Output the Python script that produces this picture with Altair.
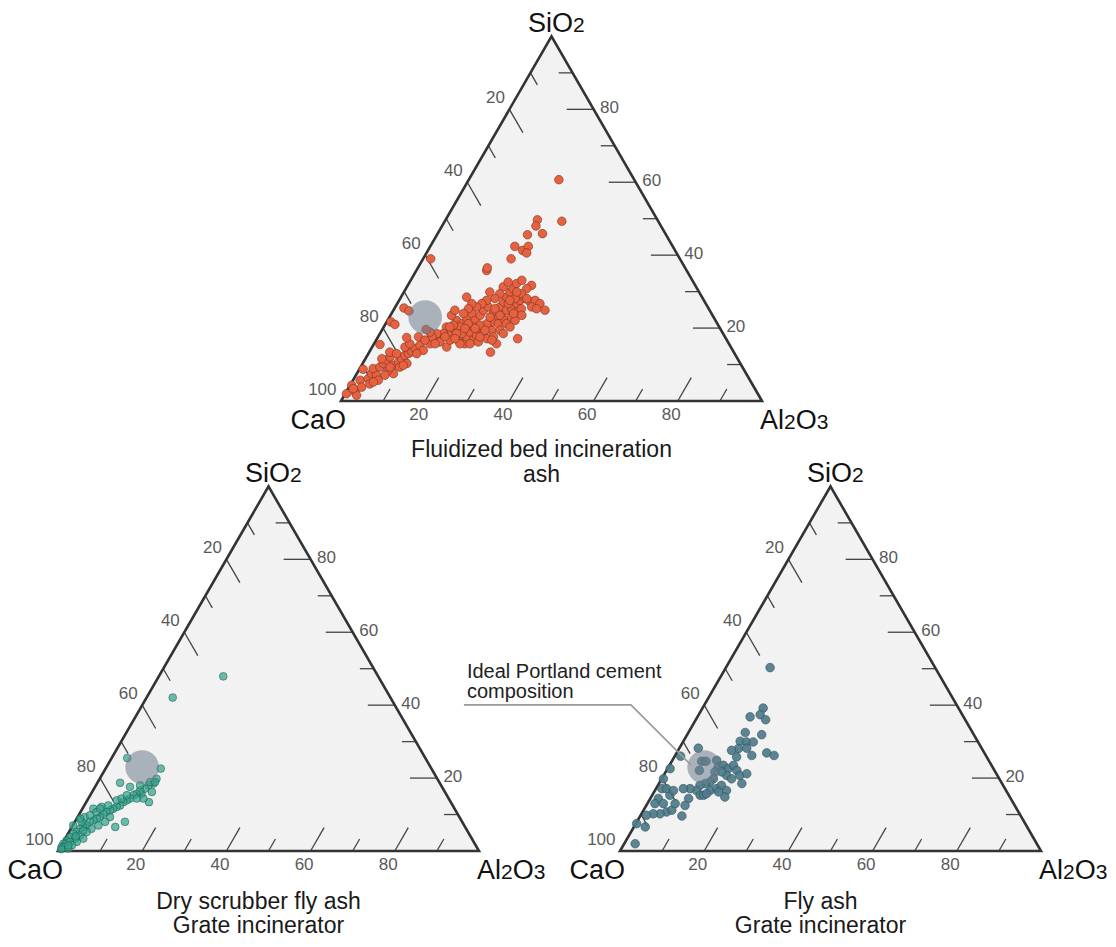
import altair as alt
import pandas as pd

# ---------------- layout of the three ternary panels ----------------
PANEL_IDS = ["fbi", "dry", "fly"]
PANEL_X0 = [341, 58, 620]      # x of the CaO corner
PANEL_Y0 = [399, 849, 849]     # y of the base line
PANEL_SIDE = [421, 421, 421]   # side length
TITLE_GAP = [56, 58, 58]
TITLE_LEADING = [25, 24, 24]
TITLE_LINES = [["Fluidized bed incineration", "ash"],
               ["Dry scrubber fly ash", "Grate incinerator"],
               ["Fly ash", "Grate incinerator"]]
POINT_FILL = ["#e6613f", "#34a38c", "#4e7c8b"]
POINT_STROKE = ["#6e2d1e", "#1b5a4e", "#2a4853"]
POINT_FILL_OPACITY = [1.0, 0.72, 0.92]
POINT_SIZE = [75, 60, 75]

# ---------------- tick values ----------------
TICK_VALUES = [10, 20, 30, 40, 50, 60, 70, 80, 90]
MAJOR_TICKS = [20, 40, 60, 80]
LEFT_LABELS = [20, 40, 60, 80, 100]     # CaO
RIGHT_LABELS = [20, 40, 60, 80]         # SiO2
BOTTOM_LABELS = [20, 40, 60, 80]        # Al2O3

# ideal Portland cement composition (CaO, SiO2, Al2O3)
CEM_CAO, CEM_SIO2, CEM_AL2O3 = 68.5, 23.0, 8.5

# ---------------- data: Fluidized bed incineration ash ----------------
FBI_CAO = [97.7, 95.4, 95.5, 95.3, 90.4, 92.6, 90.5, 89.0, 88.0, 87.9, 86.1, 84.8, 83.5, 82.3, 84.5,
           82.7, 81.0, 79.8, 78.6, 77.5, 76.4, 75.2, 73.6, 73.5, 70.9, 71.0, 81.4, 79.2, 83.8, 84.6,
           88.3, 90.8, 93.2, 95.4, 77.4, 75.8, 75.5, 81.7, 80.3, 83.0, 75.7, 68.3, 68.4, 67.5, 64.8,
           63.2, 63.7, 62.3, 62.7, 61.3, 59.9, 60.2, 58.8, 57.3, 56.9, 56.8, 54.5, 55.0, 55.2, 61.5,
           60.7, 58.8, 56.9, 57.1, 55.2, 53.7, 52.1, 51.8, 51.7, 49.3, 47.8, 46.4, 44.9, 43.7, 42.2,
           40.5, 45.8, 44.0, 47.6, 49.4, 49.7, 51.6, 53.2, 54.9, 55.6, 55.9, 57.1, 58.9, 61.6, 62.9,
           62.0, 60.5, 64.8, 66.4, 68.0, 69.6, 69.4, 53.3, 52.0, 50.1, 48.2, 46.8, 44.9, 43.7, 42.2,
           41.5, 40.1, 39.4, 39.1, 38.9, 40.5, 42.4, 44.6, 46.9, 50.0, 52.5, 50.1, 48.0, 46.1, 44.5,
           47.6, 49.7, 54.8, 56.6, 58.4, 59.2, 62.1, 63.3, 65.7, 66.5, 47.5, 47.0, 57.8, 49.5, 17.9,
           22.9, 28.5, 29.7, 32.9, 29.2, 37.5, 36.2, 34.3, 35.6, 40.1, 59.2, 72.3, 71.5, 77.3, 76.7,
           70.0, 63.9, 61.5, 59.3, 56.1, 58.2, 60.6, 64.4, 53.1, 50.8, 47.0, 52.2, 55.8, 58.2, 64.0,
           50.5, 46.1, 43.3, 41.8, 41.8, 40.9, 45.3, 72.8, 71.7, 69.8, 89.7, 86.0, 80.3, 83.7]
FBI_SIO2 = [2.0, 2.5, 1.6, 4.3, 8.7, 5.7, 6.1, 7.5, 7.1, 8.9, 9.3, 10.3, 11.2, 12.1, 11.6,
            9.8, 10.7, 11.6, 12.5, 13.0, 13.5, 14.4, 15.3, 13.9, 16.7, 15.7, 9.3, 10.3, 7.5, 8.4,
            5.7, 4.7, 3.8, 3.4, 14.8, 15.7, 13.0, 13.4, 13.0, 15.5, 17.4, 17.1, 16.2, 14.8, 18.5,
            19.4, 16.7, 18.0, 15.7, 17.6, 18.9, 16.7, 18.0, 19.4, 18.5, 17.1, 19.4, 17.6, 15.7, 22.1,
            21.2, 22.6, 24.0, 22.1, 23.5, 24.9, 25.8, 24.0, 22.6, 25.8, 27.2, 28.5, 29.9, 30.8, 32.2,
            33.1, 31.3, 32.6, 29.4, 28.1, 29.9, 27.6, 26.7, 25.8, 26.7, 28.5, 25.3, 24.0, 20.3, 20.8,
            23.5, 24.9, 20.3, 18.5, 18.5, 17.6, 18.9, 21.7, 21.2, 23.5, 24.9, 25.3, 26.7, 27.6, 28.1,
            27.2, 27.6, 26.7, 24.9, 31.7, 30.8, 29.4, 28.1, 26.7, 22.1, 19.4, 21.2, 23.0, 24.4, 25.3,
            22.1, 20.3, 21.2, 20.8, 20.3, 21.2, 18.5, 18.5, 16.7, 17.6, 35.8, 36.5, 13.4, 17.1, 60.7,
            49.3, 49.7, 48.0, 45.6, 45.9, 42.4, 41.3, 42.4, 40.6, 39.0, 39.0, 25.5, 24.7, 21.7, 21.0,
            19.6, 15.7, 15.7, 16.2, 19.4, 19.9, 19.9, 17.1, 23.0, 25.3, 24.0, 18.5, 16.7, 17.6, 20.3,
            23.5, 27.6, 29.9, 28.1, 25.8, 25.3, 23.5, 17.6, 16.7, 15.7, 5.2, 7.1, 9.8, 9.3]
FBI_AL2O3 = [0.3, 2.1, 2.9, 0.4, 0.9, 1.7, 3.4, 3.5, 4.9, 3.2, 4.6, 4.9, 5.3, 5.6, 3.9,
             7.5, 8.3, 8.6, 8.9, 9.5, 10.1, 10.4, 11.1, 12.6, 12.4, 13.3, 9.3, 10.5, 8.7, 7.0,
             6.0, 4.5, 3.0, 1.2, 7.8, 8.5, 11.5, 4.9, 6.7, 1.5, 6.9, 14.6, 15.4, 17.7, 16.7,
             17.4, 19.6, 19.7, 21.6, 21.1, 21.2, 23.1, 23.2, 23.3, 24.6, 26.1, 26.1, 27.4, 29.1, 16.4,
             18.1, 18.6, 19.1, 20.8, 21.3, 21.4, 22.1, 24.2, 25.7, 24.9, 25.0, 25.1, 25.2, 25.5, 25.6,
             26.4, 22.9, 23.4, 23.0, 22.5, 20.4, 20.8, 20.1, 19.3, 17.7, 15.6, 17.6, 17.1, 18.1, 16.3,
             14.5, 14.6, 14.9, 15.1, 13.5, 12.8, 11.7, 25.0, 26.8, 26.4, 26.9, 27.9, 28.4, 28.7, 29.7,
             31.3, 32.3, 33.9, 36.0, 29.4, 28.7, 28.2, 27.3, 26.4, 27.9, 28.1, 28.7, 29.0, 29.5, 30.2,
             30.3, 30.0, 24.0, 22.6, 21.3, 19.6, 19.4, 18.2, 17.6, 15.9, 16.7, 16.5, 28.8, 33.4, 21.4,
             27.8, 21.8, 22.3, 21.5, 24.9, 20.1, 22.5, 23.3, 23.8, 20.9, 1.8, 2.2, 3.8, 1.0, 2.3,
             10.4, 20.4, 22.8, 24.5, 24.5, 21.9, 19.5, 18.5, 23.9, 23.9, 29.0, 29.3, 27.5, 24.2, 15.7,
             26.0, 26.3, 26.8, 30.1, 32.4, 33.8, 31.2, 9.6, 11.6, 14.5, 5.1, 6.9, 9.9, 7.0]

# ---------------- data: Dry scrubber fly ash (grate incinerator) ----------------
DRY_CAO = [36.8, 51.7, 70.8, 64.3, 75.9, 74.1, 80.1, 83.1, 71.7, 72.3, 66.7, 68.1, 69.5, 70.8, 72.2,
           73.5, 74.4, 75.7, 76.7, 77.8, 79.0, 80.0, 81.1, 82.0, 83.1, 84.1, 85.4, 86.3, 87.4, 88.4,
           89.7, 90.7, 91.7, 93.0, 94.0, 95.3, 96.5, 97.7, 98.6, 89.0, 85.8, 83.6, 81.8, 79.1, 83.0,
           84.8, 86.9, 89.0, 90.6, 92.6, 94.2, 95.9, 97.8, 90.4, 87.5, 85.5, 77.7, 76.0, 71.5, 68.7,
           67.5, 69.6, 72.5, 74.1, 84.2, 92.3, 94.3, 95.9, 97.2, 92.9, 90.3, 99.0, 96.8, 93.8, 91.2]
DRY_SIO2 = [47.9, 42.1, 25.5, 22.6, 18.7, 17.6, 8.0, 6.6, 13.4, 15.7, 19.8, 18.5, 18.0, 17.1, 16.6,
            15.7, 15.3, 14.4, 13.9, 13.4, 12.5, 12.1, 11.6, 11.2, 10.7, 10.2, 9.3, 8.9, 8.4, 8.0,
            7.0, 6.6, 6.1, 5.2, 4.7, 3.8, 2.9, 2.0, 1.1, 9.3, 11.6, 12.1, 12.5, 13.9, 9.3,
            8.0, 7.0, 6.1, 5.2, 4.3, 3.4, 2.5, 1.1, 8.0, 9.8, 10.7, 14.4, 15.3, 18.0, 18.9,
            18.9, 16.2, 14.4, 14.4, 11.6, 3.4, 2.5, 1.6, 0.7, 7.0, 8.9, 0.5, 1.5, 4.0, 5.6]
DRY_AL2O3 = [15.3, 6.2, 3.7, 13.1, 5.4, 8.3, 11.9, 10.3, 14.9, 12.0, 13.5, 13.4, 12.5, 12.1, 11.2,
             10.8, 10.3, 9.9, 9.4, 8.8, 8.5, 7.9, 7.3, 6.8, 6.2, 5.7, 5.3, 4.8, 4.2, 3.6,
             3.3, 2.7, 2.2, 1.8, 1.3, 0.9, 0.6, 0.3, 0.3, 1.7, 2.6, 4.3, 5.7, 7.0, 7.7,
             7.2, 6.1, 4.9, 4.2, 3.1, 2.4, 1.6, 1.1, 1.6, 2.7, 3.8, 7.9, 8.7, 10.5, 12.4,
             13.6, 14.2, 13.1, 11.5, 4.2, 4.3, 3.2, 2.5, 2.1, 0.1, 0.8, 0.5, 1.7, 2.2, 3.2]

# ---------------- data: Fly ash (grate incinerator) ----------------
FLY_CAO = [39.2, 46.4, 48.0, 47.4, 50.7, 54.0, 50.4, 56.4, 55.0, 53.4, 57.8, 55.8, 55.6, 59.7, 59.4,
           51.7, 50.3, 67.3, 72.6, 68.3, 67.3, 70.1, 64.6, 65.2, 63.7, 63.0, 61.3, 61.2, 61.2, 59.3,
           61.8, 64.3, 65.0, 66.6, 67.9, 69.2, 70.5, 72.0, 73.5, 73.3, 72.5, 70.3, 68.5, 66.9, 66.4,
           67.7, 68.5, 71.6, 74.8, 76.4, 76.5, 78.3, 76.8, 79.8, 81.5, 80.5, 83.7, 85.2, 83.2, 83.6,
           82.1, 80.4, 80.5, 85.4, 87.0, 88.8, 90.7, 92.3, 95.4, 63.6, 80.4, 79.0]
FLY_SIO2 = [50.3, 39.2, 37.4, 36.0, 36.8, 32.5, 31.9, 30.1, 29.9, 29.9, 28.1, 28.2, 26.2, 27.6, 25.8,
            26.9, 26.2, 28.2, 26.0, 24.6, 24.6, 22.1, 24.9, 23.0, 23.5, 22.6, 23.5, 22.1, 20.7, 21.2,
            18.5, 20.7, 21.7, 21.7, 19.8, 18.9, 18.5, 18.0, 16.6, 15.3, 15.3, 16.6, 17.1, 18.0, 16.6,
            14.8, 16.2, 15.7, 17.1, 17.1, 14.4, 12.5, 22.6, 19.8, 17.1, 15.3, 14.4, 13.0, 13.0, 10.7,
            11.2, 13.0, 9.6, 10.2, 10.2, 9.8, 6.6, 7.5, 2.0, 19.8, 17.1, 16.6]
FLY_AL2O3 = [10.5, 14.4, 14.6, 16.6, 12.5, 13.5, 17.7, 13.5, 15.1, 16.7, 14.1, 16.0, 18.2, 12.7, 14.8,
             21.4, 23.5, 4.5, 1.4, 7.1, 8.1, 7.8, 10.5, 11.8, 12.8, 14.4, 15.2, 16.7, 18.1, 19.5,
             19.7, 15.0, 13.3, 11.7, 12.3, 11.9, 11.0, 10.0, 9.9, 11.4, 12.2, 13.1, 14.4, 15.1, 17.0,
             17.5, 15.3, 12.7, 8.1, 6.5, 9.1, 9.2, 0.6, 0.4, 1.4, 4.2, 1.9, 1.8, 3.8, 5.7,
             6.7, 6.6, 9.9, 4.4, 2.8, 1.4, 2.7, 0.2, 2.6, 16.6, 2.5, 4.4]

SERIES = {"fbi": (FBI_CAO, FBI_SIO2, FBI_AL2O3),
          "dry": (DRY_CAO, DRY_SIO2, DRY_AL2O3),
          "fly": (FLY_CAO, FLY_SIO2, FLY_AL2O3)}

# ---------------- styling constants ----------------
FONT = "Liberation Sans"
MAJOR_LEN, MINOR_LEN = 6.4, 3.3        # tick length in % of the side
MAIN_FS, SUB_FS = 27, 21
CHAR_W = {"S": 0.667, "i": 0.222, "O": 0.778, "C": 0.722, "a": 0.556,
          "A": 0.667, "l": 0.222, "2": 0.556, "3": 0.556}

geo = pd.DataFrame({"panel": PANEL_IDS, "x0": PANEL_X0, "y0": PANEL_Y0, "L": PANEL_SIDE})


def with_geo(df):
    return df.merge(geo, on="panel")


PX = "datum.x0 + datum.L * (datum.al + datum.si / 2) / 100"
PY = "datum.y0 - datum.L * 0.8660254 * datum.si / 100"
PX2 = "datum.x0 + datum.L * (datum.al2 + datum.si2 / 2) / 100"
PY2 = "datum.y0 - datum.L * 0.8660254 * datum.si2 / 100"

XS = alt.Scale(domain=[8, 1108], nice=False, zero=False)
YS = alt.Scale(domain=[6, 937], nice=False, zero=False, reverse=True)


def X(f):
    return alt.X(f"{f}:Q", scale=XS, axis=None)


def Y(f):
    return alt.Y(f"{f}:Q", scale=YS, axis=None)


# ---------------- triangle fill & outline ----------------
tri_rows, edge_rows = [], []
for p in PANEL_IDS:
    for k, (si, al) in enumerate([(0, 0), (100, 0), (0, 100)]):
        tri_rows.append({"panel": p, "k": k, "si": si, "al": al})
    for k, (si, al) in enumerate([(0, 50), (0, 100), (100, 0), (0, 0), (0, 50)]):
        edge_rows.append({"panel": p, "k": k, "si": si, "al": al})

tri_fill = alt.Chart(with_geo(pd.DataFrame(tri_rows))).transform_calculate(
    px=PX, py=PY).mark_area(color="#f2f2f2", opacity=1).encode(
    x=X("px"), y=Y("py"), y2=alt.Y2("y0:Q"), detail="panel:N")

tri_edge = alt.Chart(with_geo(pd.DataFrame(edge_rows))).transform_calculate(
    px=PX, py=PY).mark_line(color="#333333", strokeWidth=2.6, strokeJoin="miter",
                            strokeMiterLimit=10).encode(
    x=X("px"), y=Y("py"), order="k:Q", detail="panel:N")

# ---------------- ticks ----------------
tick_rows = []
for p in PANEL_IDS:
    for v in TICK_VALUES:
        d = MAJOR_LEN if v in MAJOR_TICKS else MINOR_LEN
        tick_rows.append({"panel": p, "si": 100 - v, "al": 0, "si2": 100 - v - d, "al2": d})
        tick_rows.append({"panel": p, "si": v, "al": 100 - v, "si2": v, "al2": 100 - v - d})
        tick_rows.append({"panel": p, "si": 0, "al": v, "si2": d, "al2": v})

ticks = alt.Chart(with_geo(pd.DataFrame(tick_rows))).transform_calculate(
    px=PX, py=PY, px2=PX2, py2=PY2).mark_rule(color="#444444", strokeWidth=1.3).encode(
    x=X("px"), y=Y("py"), x2="px2:Q", y2="py2:Q")

# ---------------- tick labels ----------------
def label_layer(rows, **mk):
    return alt.Chart(with_geo(pd.DataFrame(rows))).transform_calculate(
        px=PX, py=PY).mark_text(font=FONT, fontSize=17, color="#5a5a5a",
                                baseline="middle", **mk).encode(
        x=X("px"), y=Y("py"), text="lab:N")


left_rows = [{"panel": p, "si": 100 - v, "al": 0, "lab": str(v)} for p in PANEL_IDS for v in LEFT_LABELS]
right_rows = [{"panel": p, "si": v, "al": 100 - v, "lab": str(v)} for p in PANEL_IDS for v in RIGHT_LABELS]
bottom_rows = [{"panel": p, "si": 0, "al": v, "lab": str(v)} for p in PANEL_IDS for v in BOTTOM_LABELS]

left_lab = label_layer(left_rows, align="right", dx=-4.5, dy=-11.5)
right_lab = label_layer(right_rows, align="left", dx=6.5, dy=-1.5)
bottom_lab = label_layer(bottom_rows, align="center", dx=-6.5, dy=13.5)

# ---------------- data points ----------------
point_layers = []
for i, p in enumerate(PANEL_IDS):
    ca, si, al = SERIES[p]
    df = with_geo(pd.DataFrame({"panel": p, "ca": ca, "si": si, "al": al}))
    point_layers.append(
        alt.Chart(df).transform_calculate(px=PX, py=PY).mark_point(
            shape="circle", filled=True, size=POINT_SIZE[i], opacity=1,
            fill=POINT_FILL[i], fillOpacity=POINT_FILL_OPACITY[i],
            stroke=POINT_STROKE[i], strokeWidth=0.6, strokeOpacity=0.9).encode(
            x=X("px"), y=Y("py")))

# ---------------- Portland cement circles ----------------
cem = with_geo(pd.DataFrame({"panel": PANEL_IDS, "ca": CEM_CAO, "si": CEM_SIO2, "al": CEM_AL2O3}))
cem_layer = alt.Chart(cem).transform_calculate(px=PX, py=PY).mark_circle(
    size=1134, color="#6e7d8c", opacity=0.55).encode(x=X("px"), y=Y("py"))

# ---------------- corner labels (with smaller subscripts) ----------------
def parts(specs, start):
    out, x = [], start
    for txt, fs in specs:
        out.append((txt, fs, x))
        x += sum(CHAR_W[c] for c in txt) * fs
    return out


corner_rows = []
for p in PANEL_IDS:
    for txt, fs, xo in parts([("SiO", MAIN_FS), ("2", SUB_FS)], -23.5):
        corner_rows.append({"panel": p, "si": 100, "al": 0, "t": txt, "fs": fs, "xoff": xo, "yoff": -4})
    for txt, fs, xo in parts([("CaO", MAIN_FS)], -50.5):
        corner_rows.append({"panel": p, "si": 0, "al": 0, "t": txt, "fs": fs, "xoff": xo, "yoff": 28})
    for txt, fs, xo in parts([("Al", MAIN_FS), ("2", SUB_FS), ("O", MAIN_FS), ("3", SUB_FS)], -2):
        corner_rows.append({"panel": p, "si": 0, "al": 100, "t": txt, "fs": fs, "xoff": xo, "yoff": 28})

corner_lab = alt.Chart(with_geo(pd.DataFrame(corner_rows))).transform_calculate(
    px=PX, py=PY, tx="datum.px + datum.xoff", ty="datum.py + datum.yoff").mark_text(
    font=FONT, color="#111111", align="left", baseline="alphabetic").encode(
    x=X("tx"), y=Y("ty"), text="t:N", size=alt.Size("fs:Q", scale=None))

# ---------------- panel titles ----------------
title_rows = []
for i, p in enumerate(PANEL_IDS):
    for j, line in enumerate(TITLE_LINES[i]):
        title_rows.append({"panel": p, "si": 0, "al": 50, "t": line, "xoff": -10,
                           "yoff": TITLE_GAP[i] + TITLE_LEADING[i] * j})

titles = alt.Chart(with_geo(pd.DataFrame(title_rows))).transform_calculate(
    px=PX, py=PY, tx="datum.px + datum.xoff", ty="datum.py + datum.yoff").mark_text(
    font=FONT, fontSize=23, color="#1a1a1a", align="center", baseline="alphabetic").encode(
    x=X("tx"), y=Y("ty"), text="t:N")

# ---------------- annotation ----------------
ANNOT_LINES = ["Ideal Portland cement", "composition"]
ann_text_rows = [{"panel": "fly", "si": CEM_SIO2, "al": CEM_AL2O3, "t": t,
                  "xoff": -237.3, "yoff": -89.3 + 20 * j} for j, t in enumerate(ANNOT_LINES)]
ann_text = alt.Chart(with_geo(pd.DataFrame(ann_text_rows))).transform_calculate(
    px=PX, py=PY, tx="datum.px + datum.xoff", ty="datum.py + datum.yoff").mark_text(
    font=FONT, fontSize=20, color="#222222", align="left", baseline="alphabetic").encode(
    x=X("tx"), y=Y("ty"), text="t:N")

ann_line_rows = [{"panel": "fly", "si": CEM_SIO2, "al": CEM_AL2O3, "k": k, "xoff": xo, "yoff": yo}
                 for k, (xo, yo) in enumerate([(-240.3, -62.3), (-73.3, -62.3), (-13.3, -2.3)])]
ann_line = alt.Chart(with_geo(pd.DataFrame(ann_line_rows))).transform_calculate(
    px=PX, py=PY, tx="datum.px + datum.xoff", ty="datum.py + datum.yoff").mark_line(
    color="#999999", strokeWidth=1.6).encode(x=X("tx"), y=Y("ty"), order="k:Q")

chart = alt.layer(
    tri_fill, ticks, tri_edge, *point_layers, cem_layer,
    left_lab, right_lab, bottom_lab, corner_lab, titles, ann_line, ann_text
).properties(
    width=1100, height=931, padding=0,
    autosize=alt.AutoSizeParams(type="none"),
    background="white"
).configure_view(stroke=None)

chart.save("out.html", embed_options={"renderer": "svg", "actions": False})
